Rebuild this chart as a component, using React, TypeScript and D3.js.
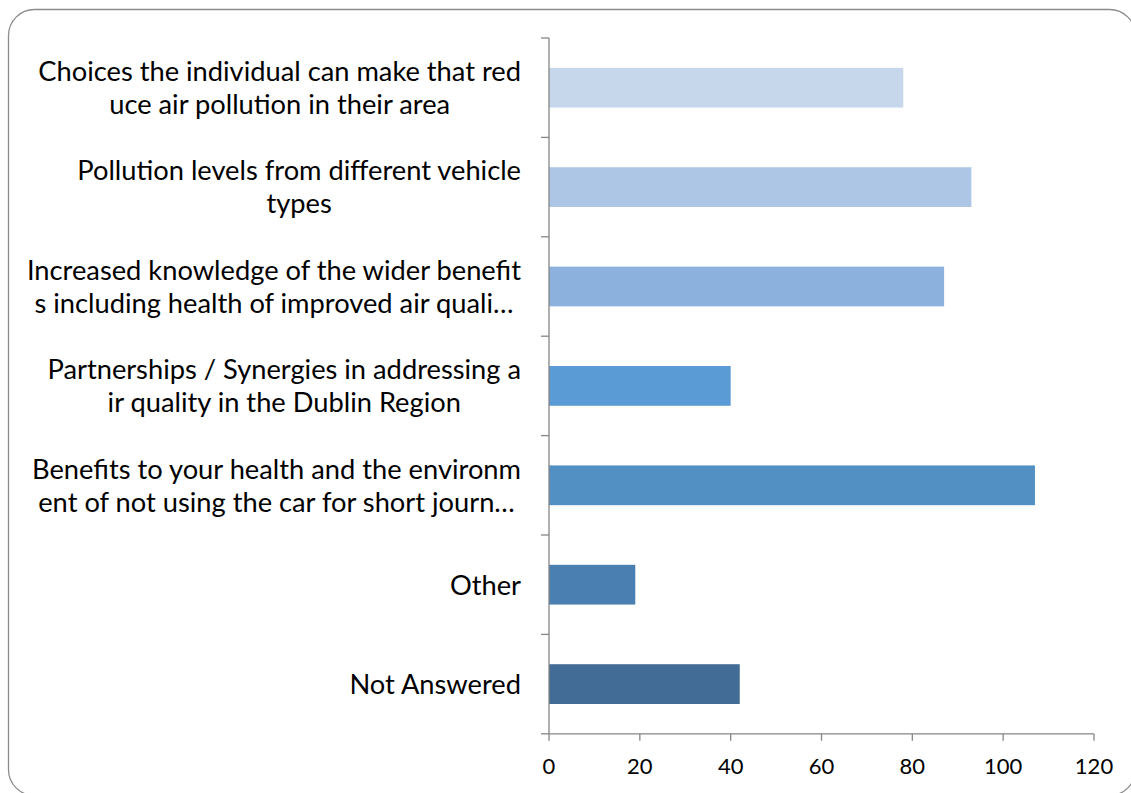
import React, { useEffect, useRef } from "react";
import * as d3 from "d3";

const categories = [
  "Choices the individual can make that reduce air pollution in their area",
  "Pollution levels from different vehicle types",
  "Increased knowledge of the wider benefits including health of improved air quality",
  "Partnerships / Synergies in addressing air quality in the Dublin Region",
  "Benefits to your health and the environment of not using the car for short journeys",
  "Other",
  "Not Answered",
];
const labelLines: string[][] = [
  ["Choices the individual can make that red", "uce air pollution in their area"],
  ["Pollution levels from different vehicle", "types"],
  ["Increased knowledge of the wider benefit", "s including health of improved air quali…"],
  ["Partnerships / Synergies in addressing a", "ir quality in the Dublin Region"],
  ["Benefits to your health and the environm", "ent of not using the car for short journ…"],
  ["Other"],
  ["Not Answered"],
];
const values = [78, 93, 87, 40, 107, 19, 42];
const barColors = ["#C6D7EC", "#ADC6E5", "#8DB1DD", "#5B9BD5", "#528FC2", "#4A7FB2", "#426B95"];
const xTicks = [0, 20, 40, 60, 80, 100, 120];

const W = 1131;
const H = 793;
const X0 = 549;
const X1 = 1094;
const Y0 = 38;
const Y1 = 733.8;
const LABEL_RIGHT = 521;
const FONT = "Lato, 'Open Sans', sans-serif";

export default function App() {
  const ref = useRef<SVGSVGElement | null>(null);

  useEffect(() => {
    const svg = d3.select(ref.current);
    svg.selectAll("*").remove();

    const x = d3.scaleLinear().domain([0, 120]).range([X0, X1]);
    const y = d3
      .scaleBand<string>()
      .domain(categories)
      .range([Y0, Y1])
      .paddingInner(0.6)
      .paddingOuter(0.3);

    // border
    svg
      .append("rect")
      .attr("x", 8.5)
      .attr("y", 9.5)
      .attr("width", 1127)
      .attr("height", 786)
      .attr("rx", 26)
      .attr("ry", 26)
      .attr("fill", "#fff")
      .attr("stroke", "#8c8c8c")
      .attr("stroke-width", 1.3);

    // bars
    svg
      .append("g")
      .selectAll("rect")
      .data(categories)
      .join("rect")
      .attr("x", X0)
      .attr("y", (d) => y(d) as number)
      .attr("width", (_d, i) => x(values[i]) - X0)
      .attr("height", y.bandwidth())
      .attr("fill", (_d, i) => barColors[i]);

    const axisColor = "#868686";
    const step = y.step();
    const boundaries = d3.range(categories.length + 1).map((i) => Y0 + i * step);

    const ax = svg.append("g").attr("stroke", axisColor).attr("stroke-width", 1.3);
    ax.append("line").attr("x1", X0).attr("x2", X0).attr("y1", Y0).attr("y2", Y1);
    ax.append("line").attr("x1", X0).attr("x2", X1).attr("y1", Y1).attr("y2", Y1);
    ax.selectAll("line.yt")
      .data(boundaries)
      .join("line")
      .attr("class", "yt")
      .attr("x1", X0 - 8)
      .attr("x2", X0)
      .attr("y1", (d) => d)
      .attr("y2", (d) => d);
    ax.selectAll("line.xt")
      .data(xTicks)
      .join("line")
      .attr("class", "xt")
      .attr("x1", (d) => x(d))
      .attr("x2", (d) => x(d))
      .attr("y1", Y1)
      .attr("y2", Y1 + 7);

    // tick labels
    svg
      .append("g")
      .selectAll("text")
      .data(xTicks)
      .join("text")
      .attr("x", (d) => x(d))
      .attr("y", 774)
      .attr("text-anchor", "middle")
      .attr("font-family", FONT)
      .attr("font-size", 22)
      .attr("fill", "#000")
      .text((d) => String(d));

    // category labels: size font so the first line matches width
    const probe = svg
      .append("text")
      .attr("font-family", FONT)
      .attr("font-size", 100)
      .text(labelLines[0][0]);
    const pw = (probe.node() as SVGTextElement).getComputedTextLength();
    probe.remove();
    const fs = (100 * 483) / pw;
    const lineGap = 33;

    const lg = svg.append("g").attr("font-family", FONT).attr("font-size", fs).attr("fill", "#000");
    labelLines.forEach((lines, i) => {
      const c = (y(categories[i]) as number) + y.bandwidth() / 2;
      const g = lg.append("g");
      const texts = lines.map((ln) => g.append("text").text(ln));
      const widths = texts.map((t) => (t.node() as SVGTextElement).getComputedTextLength());
      const maxW = Math.max(...widths);
      const cx = LABEL_RIGHT - maxW / 2;
      const capHalf = fs * 0.36;
      const top = c - ((lines.length - 1) * lineGap) / 2;
      texts.forEach((t, j) => {
        t.attr("x", cx)
          .attr("text-anchor", "middle")
          .attr("y", top + j * lineGap + capHalf);
      });
    });
  }, []);

  return (
    <svg
      ref={ref}
      width={W}
      height={H}
      style={{ position: "absolute", left: 0, top: 0, background: "#fff" }}
    />
  );
}
